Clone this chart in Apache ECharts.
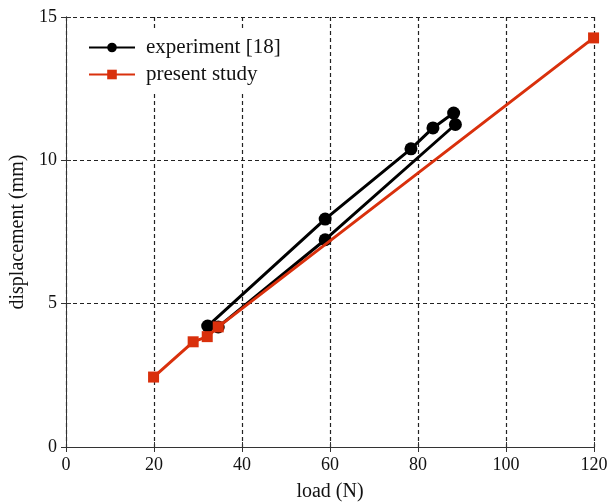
<!DOCTYPE html>
<html>
<head>
<meta charset="utf-8">
<script src="https://cdn.jsdelivr.net/npm/echarts@6/dist/echarts.min.js"></script>
<style>html,body{margin:0;padding:0;background:#fff}#c{width:611px;height:504px}</style>
</head>
<body>
<div id="c"></div>
<script>
const expLoad = [32.2, 58.9, 78.4, 83.4, 88.1, 88.5, 58.9, 34.6];
const expDisp = [4.22, 7.95, 10.40, 11.13, 11.65, 11.25, 7.23, 4.19];
const studyLoad = [19.9, 28.9, 32.1, 34.6, 119.9];
const studyDisp = [2.44, 3.67, 3.85, 4.19, 14.27];
const xTicks = [0, 20, 40, 60, 80, 100, 120];
const yTicks = [0, 5, 10, 15];
const seriesNames = ['experiment [18]', 'present study'];

const font = 'Liberation Serif';
const axisCol = '#333';
const gridCol = '#222';
const chart = echarts.init(document.getElementById('c'));
const baseAxis = {
  axisLine: {show: true, lineStyle: {color: axisCol, width: 1}},
  axisTick: {show: true, inside: true, length: 5, lineStyle: {color: axisCol}},
  splitLine: {show: false}
};
chart.setOption({
  animation: false,
  grid: {left: 66, right: 17, top: 17, bottom: 57, containLabel: false, outerBoundsMode: 'none'},
  legend: {
    data: seriesNames,
    left: 78, top: 29, orient: 'vertical',
    backgroundColor: '#fff', padding: [8, 10, 8, 10],
    itemWidth: 46, itemHeight: 12, itemGap: 6,
    textStyle: {fontFamily: font, fontSize: 21, color: '#111', padding: [0, 0, 0, 6]}
  },
  xAxis: [
    Object.assign({}, baseAxis, {
      type: 'value', min: xTicks[0], max: xTicks[xTicks.length - 1], interval: 20,
      name: 'load (N)', nameLocation: 'middle', nameGap: 35,
      nameTextStyle: {fontFamily: font, fontSize: 20, color: '#111'},
      axisLabel: {fontFamily: font, fontSize: 18, color: '#111', margin: 9},
      splitLine: {show: true, lineStyle: {type: [4, 3], color: gridCol, width: 1.2}}
    }),
    Object.assign({}, baseAxis, {
      type: 'value', position: 'top', min: 0, max: 120, interval: 20,
      axisLabel: {show: false}
    })
  ],
  yAxis: [
    Object.assign({}, baseAxis, {
      type: 'value', min: yTicks[0], max: yTicks[yTicks.length - 1], interval: 5,
      name: 'displacement (mm)', nameLocation: 'middle', nameGap: 37,
      nameTextStyle: {fontFamily: font, fontSize: 20, color: '#111'},
      axisLabel: {fontFamily: font, fontSize: 18, color: '#111', margin: 9},
      splitLine: {show: true, lineStyle: {type: [4, 3], color: gridCol, width: 1.2}}
    }),
    Object.assign({}, baseAxis, {
      type: 'value', position: 'right', min: 0, max: 15, interval: 5,
      axisLabel: {show: false}
    })
  ],
  series: [
    {
      name: seriesNames[0], type: 'line', z: 3,
      data: expLoad.map((x, i) => [x, expDisp[i]]),
      symbol: 'circle', symbolSize: 13,
      lineStyle: {color: '#000', width: 3},
      itemStyle: {color: '#000'}
    },
    {
      name: seriesNames[1], type: 'line', z: 4,
      data: studyLoad.map((x, i) => [x, studyDisp[i]]),
      symbol: 'rect', symbolSize: 11,
      lineStyle: {color: '#d9300c', width: 3},
      itemStyle: {color: '#d9300c'}
    }
  ]
});
</script>
</body>
</html>
